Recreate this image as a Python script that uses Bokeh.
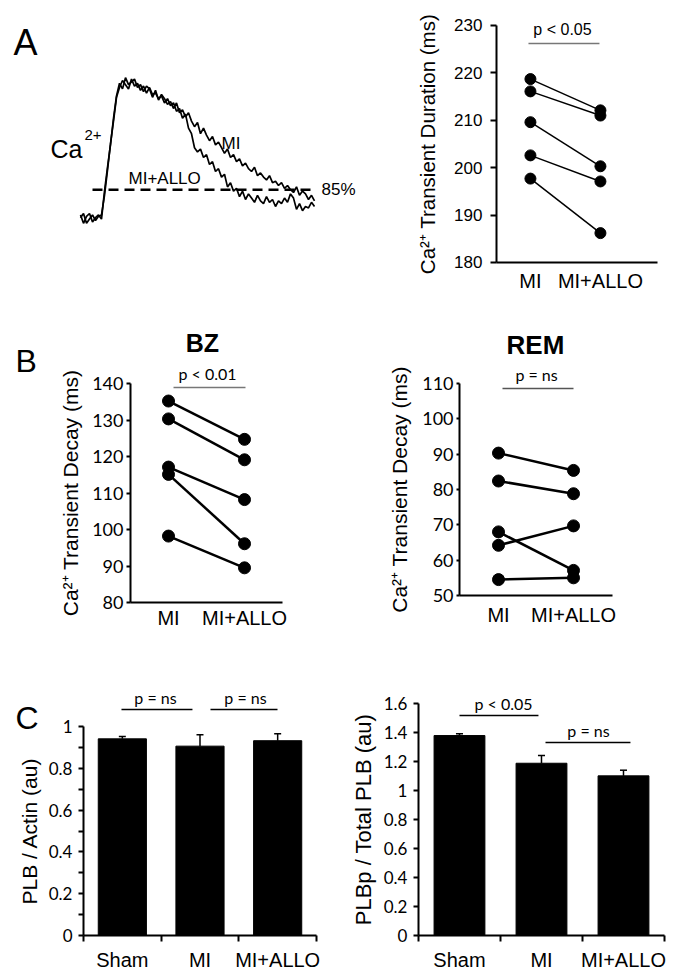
from bokeh.plotting import figure
from bokeh.layouts import column, row
from bokeh.models import Range1d, FixedTicker, CustomJSTickFormatter
from bokeh.core.properties import value
from bokeh.embed import file_html
from bokeh.resources import INLINE

ARIAL = "Liberation Sans"
CAL = "Lato"

# ---------------- data ----------------
# Panel A: Ca2+ transients (normalized fluorescence), sampled every 6 ms
trace_t_ms = list(range(0, 469, 6))
trace_mi = [0.04, -0.02, 0.03, 0.05, -0.01, 0.02, 0.04, 0.01, 0.21, 0.38,
            0.54, 0.73, 0.89, 0.98, 0.94, 1.02, 0.97, 0.99, 1.01, 0.95,
            0.97, 0.92, 0.96, 0.94, 0.88, 0.93, 0.86, 0.90, 0.87, 0.83,
            0.85, 0.80, 0.84, 0.77, 0.79, 0.74, 0.77, 0.71, 0.67, 0.70,
            0.62, 0.66, 0.61, 0.57, 0.60, 0.54, 0.56, 0.52, 0.48, 0.51,
            0.45, 0.47, 0.42, 0.44, 0.39, 0.41, 0.37, 0.35, 0.38, 0.32,
            0.34, 0.31, 0.29, 0.32, 0.27, 0.28, 0.25, 0.27, 0.23, 0.25,
            0.22, 0.20, 0.24, 0.18, 0.21, 0.19, 0.15, 0.18, 0.14]
trace_allo = [0.02, 0.05, -0.02, 0.01, 0.04, 0.00, 0.03, 0.04, 0.18, 0.36,
              0.55, 0.71, 0.88, 0.95, 1.00, 0.97, 0.94, 1.01, 0.96, 0.98,
              0.93, 0.96, 0.91, 0.95, 0.90, 0.91, 0.87, 0.89, 0.84, 0.87,
              0.82, 0.84, 0.78, 0.80, 0.73, 0.76, 0.66, 0.62, 0.52, 0.49,
              0.51, 0.45, 0.47, 0.40, 0.42, 0.35, 0.37, 0.31, 0.33, 0.24,
              0.27, 0.21, 0.23, 0.17, 0.21, 0.15, 0.19, 0.16, 0.13, 0.18,
              0.14, 0.12, 0.17, 0.13, 0.15, 0.10, 0.14, 0.12, 0.16, 0.13,
              0.19, 0.16, 0.08, 0.12, 0.07, 0.10, 0.09, 0.13, 0.10]
threshold_level = 0.22          # 85% decay level
threshold_span_ms = [24, 466]

paired_groups = ["MI", "MI+ALLO"]
dur_mi = [218.7, 216.1, 209.6, 202.6, 197.7]
dur_allo = [212.1, 211.0, 200.3, 197.1, 186.2]
dur_ticks = [180, 190, 200, 210, 220, 230]

bz_mi = [135.2, 130.3, 117.1, 115.1, 98.2]
bz_allo = [124.7, 119.1, 108.2, 96.1, 89.5]
bz_ticks = [80, 90, 100, 110, 120, 130, 140]

rem_mi = [90.3, 82.4, 68.0, 64.2, 54.5]
rem_allo = [85.4, 78.8, 57.1, 69.7, 55.0]
rem_ticks = [50, 60, 70, 80, 90, 100, 110]

bar_groups = ["Sham", "MI", "MI+ALLO"]
plb_actin = [0.941, 0.906, 0.932]
plb_actin_err = [0.011, 0.054, 0.033]
plb_ticks = [0, 0.2, 0.4, 0.6, 0.8, 1.0]
plb_minor = [0.1, 0.3, 0.5, 0.7, 0.9]

plbp_total = [1.379, 1.188, 1.101]
plbp_total_err = [0.012, 0.053, 0.039]
plbp_ticks = [0, 0.2, 0.4, 0.6, 0.8, 1.0, 1.2, 1.4, 1.6]


# ---------------- helpers ----------------
def base_fig(w, h, xr, yr, axes=True):
    kw = {}
    if not axes:
        kw = dict(x_axis_type=None, y_axis_type=None)
    p = figure(width=w, height=h, x_range=Range1d(*xr), y_range=Range1d(*yr),
               output_backend="svg", toolbar_location=None,
               min_border_left=0, min_border_right=0,
               min_border_top=0, min_border_bottom=0, **kw)
    p.outline_line_color = None
    p.background_fill_color = "white"
    p.border_fill_color = "white"
    if axes:
        p.xgrid.visible = False
        p.ygrid.visible = False
    return p


def style_axes(p, ylabel, yticks, ybounds, xbounds, tick_font, tick_size, label_size,
               ytick_out, ystand, lab_stand, xstand, minor=None):
    for ax in (p.xaxis[0], p.yaxis[0]):
        ax.axis_line_width = 2
        ax.axis_line_color = "black"
        ax.major_tick_line_width = 2
        ax.major_tick_line_color = "black"
        ax.major_tick_in = 0
        ax.minor_tick_in = 0
    ya = p.yaxis[0]
    ya.ticker = FixedTicker(ticks=yticks, minor_ticks=minor or [])
    ya.bounds = ybounds
    ya.fixed_location = xbounds[0]
    ya.major_tick_out = ytick_out
    ya.minor_tick_out = ytick_out if minor else 0
    ya.minor_tick_line_width = 2
    ya.minor_tick_line_color = "black" if minor else None
    ya.major_label_standoff = ystand
    ya.major_label_text_font = tick_font
    ya.major_label_text_font_size = tick_size
    ya.major_label_text_color = "black"
    ya.axis_label = ylabel
    ya.axis_label_text_font = ARIAL
    ya.axis_label_text_font_size = label_size
    ya.axis_label_text_font_style = "normal"
    ya.axis_label_text_color = "black"
    ya.axis_label_standoff = lab_stand
    xa = p.xaxis[0]
    xa.bounds = xbounds
    xa.fixed_location = ybounds[0]
    xa.major_label_standoff = xstand
    xa.major_label_text_font = ARIAL
    xa.major_label_text_font_size = "20px"
    xa.major_label_text_color = "black"


def paired(p, mi, allo, lw, size):
    xs0 = [1] * len(mi)
    xs1 = [2] * len(allo)
    p.segment(x0=xs0, y0=mi, x1=xs1, y1=allo, line_color="black", line_width=lw)
    p.scatter(xs0, mi, size=size, color="black")
    p.scatter(xs1, allo, size=size, color="black")
    xa = p.xaxis[0]
    xa.ticker = FixedTicker(ticks=[1, 2])
    xa.major_label_overrides = {1: paired_groups[0], 2: paired_groups[1]}
    xa.major_tick_out = 0
    xa.minor_tick_out = 0


def bars(p, vals, errs, cap):
    xs = [1, 2, 3]
    p.vbar(x=xs, top=vals, width=0.62, bottom=0, color="black")
    tops = [v + e for v, e in zip(vals, errs)]
    p.segment(x0=xs, y0=vals, x1=xs, y1=tops, line_color="black", line_width=1.5)
    p.segment(x0=[x - cap for x in xs], y0=tops, x1=[x + cap for x in xs], y1=tops,
              line_color="black", line_width=1.5)
    xa = p.xaxis[0]
    xa.ticker = FixedTicker(ticks=xs, minor_ticks=[0.5, 1.5, 2.5, 3.5])
    xa.major_label_overrides = {1: bar_groups[0], 2: bar_groups[1], 3: bar_groups[2]}
    xa.major_tick_out = 0
    xa.minor_tick_out = 6
    xa.minor_tick_line_width = 2
    xa.minor_tick_line_color = "black"
    p.yaxis[0].formatter = CustomJSTickFormatter(code="return String(Math.round(tick*10)/10)")


def txt(p, x, y, s, size, font=ARIAL, align="center", baseline="middle", style="normal"):
    p.text(x=[x], y=[y], text=[s], text_font=value(font), text_font_size=value(size),
           text_align=align, text_baseline=baseline, text_font_style=style, text_color="black")


# ---------------- Panel A: trace ----------------
fa1 = base_fig(390, 300, (-160, 620), (-0.5714, 1.5714), axes=False)
fa1.line(trace_t_ms, trace_mi, line_color="black", line_width=1.7)
fa1.line(trace_t_ms, trace_allo, line_color="black", line_width=1.7)
fa1.line(threshold_span_ms, [threshold_level, threshold_level], line_color="black",
         line_width=2.5, line_dash="10 6")
txt(fa1, -134, 1.271, "A", "36px", align="left", baseline="alphabetic")
txt(fa1, -60, 0.514, "Ca", "25px", align="left", baseline="alphabetic")
txt(fa1, 8, 0.614, "2+", "15px", align="left", baseline="alphabetic")
txt(fa1, 282, 0.55, "MI", "17px", align="left", baseline="alphabetic")
txt(fa1, 96, 0.30, "MI+ALLO", "17px", align="left", baseline="alphabetic")
txt(fa1, 482, threshold_level, "85%", "17px", align="left", baseline="middle")

# ---------------- Panel A: duration ----------------
fa2 = base_fig(294, 300, (-0.999, 3.201), (171.983, 235.274))
paired(fa2, dur_mi, dur_allo, 1.5, 11)
style_axes(fa2, "Ca²⁺ Transient Duration (ms)", dur_ticks, (180, 230), (0.515, 2.815),
           ARIAL, "17px", "20.5px", 6, 8, 12, 8)
txt(fa2, 1.458, 229.16, "p < 0.05", "16px")
fa2.segment(x0=[0.972], y0=[226.2], x1=[1.986], y1=[226.2], line_color="#777777", line_width=1.5)

# ---------------- Panel B: BZ ----------------
fb1 = base_fig(340, 340, (-1.2105, 3.263), (69.59, 162.74))
paired(fb1, bz_mi, bz_allo, 2.5, 12)
style_axes(fb1, "Ca²⁺ Transient Decay (ms)", bz_ticks, (80, 140), (0.5, 2.5),
           CAL, "18px", "21px", 4, 3, 7, 4)
txt(fb1, -1.013, 146.3, "B", "32px", align="left", baseline="alphabetic")
txt(fb1, 1.447, 150.96, "BZ", "25px", style="bold")
txt(fb1, 1.513, 142.74, "p < 0.01", "16px", font=CAL)
fb1.segment(x0=[1.066], y0=[138.9], x1=[2.013], y1=[138.9], line_color="#777777", line_width=1.5)

# ---------------- Panel B: REM ----------------
fb2 = base_fig(344, 340, (-1.107, 3.48), (37.26, 133.49))
paired(fb2, rem_mi, rem_allo, 2.5, 12)
style_axes(fb2, "Ca²⁺ Transient Decay (ms)", rem_ticks, (50, 110), (0.48, 2.52),
           CAL, "18px", "21px", 3, 3, 8, 9)
txt(fb2, 1.493, 120.76, "REM", "26px", style="bold")
txt(fb2, 1.507, 112.55, "p = ns", "16px", font=CAL)
fb2.segment(x0=[1.053], y0=[108.58], x1=[2.0], y1=[108.58], line_color="#555555", line_width=1.5)

# ---------------- Panel C: PLB / Actin ----------------
fc1 = base_fig(340, 340, (-0.5686, 3.809), (-0.2153, 1.4115))
bars(fc1, plb_actin, plb_actin_err, 0.045)
style_axes(fc1, "PLB / Actin (au)", plb_ticks, (0, 1), (0.5, 3.5),
           CAL, "17px", "21px", 5, 6, 5, 7, minor=plb_minor)
txt(fc1, -0.376, 1.043, "C", "32px", align="left", baseline="alphabetic")
txt(fc1, 1.427, 1.139, "p = ns", "16px", font=CAL)
txt(fc1, 2.586, 1.139, "p = ns", "16px", font=CAL)
fc1.segment(x0=[0.989, 2.135], y0=[1.081, 1.081], x1=[1.903, 2.998], y1=[1.081, 1.081],
            line_color="black", line_width=1.5)

# ---------------- Panel C: PLBp / Total PLB ----------------
fc2 = base_fig(344, 340, (-0.451, 3.744), (-0.3103, 2.0345))
bars(fc2, plbp_total, plbp_total_err, 0.043)
style_axes(fc2, "PLBp / Total PLB (au)", plbp_ticks, (0, 1.6), (0.5, 3.5),
           CAL, "17px", "22px", 5, 6, 5, 7)
txt(fc2, 1.537, 1.6, "p < 0.05", "16px", font=CAL)
txt(fc2, 2.573, 1.414, "p = ns", "16px", font=CAL)
fc2.segment(x0=[1.0, 2.049], y0=[1.517, 1.331], x1=[1.963, 3.085], y1=[1.517, 1.331],
            line_color="black", line_width=1.5)

layout = column(row(fa1, fa2), row(fb1, fb2), row(fc1, fc2))
open("out.html", "w").write(file_html(layout, INLINE))
